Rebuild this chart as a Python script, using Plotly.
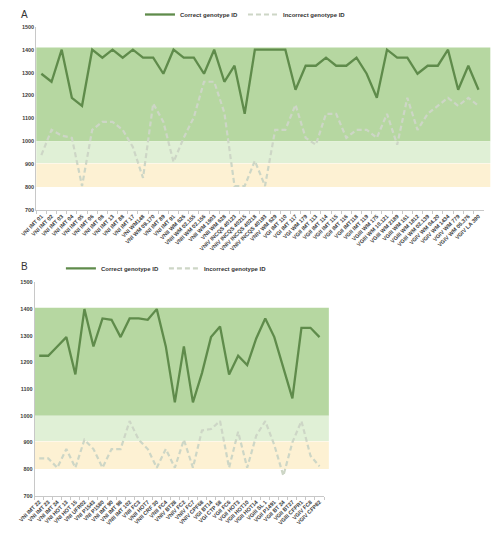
import plotly.graph_objects as go

# ---------------- data ----------------
a_labels = ["VNI IMT 01", "VNI IMT 02", "VNI IMT 03", "VNI IMT 04", "VNI IMT 05", "VNI IMT 06",
            "VNI IMT 08", "VNI IMT 13", "VNI IMT 88", "VNI IMT 17", "VNI WM148", "VNI WM 09.170",
            "VNI IMT 89", "VNI IMT 91", "VNII WM 626", "VNII WM 02.155", "VNII WM 02.156",
            "VNII WM 1603", "VNII WM 628", "VNIV INCQS 40123", "VNIV INCQS 40215",
            "VNIV INCQS 40218", "VNIV INCQS 40193", "VNIV WM 629", "VGI IMT 110", "VGI IMT 117",
            "VGI WM 179", "VGII IMT 113", "VGII IMT 114", "VGII IMT 115", "VGII IMT 116",
            "VGII IMT118", "VGII IMT 119", "VGIII WM 175", "VGIII WM 10.121", "VGIII WM 2189",
            "VGIII WM 161", "VGIII WM 1812", "VGIII WM 02.139", "VGIV WM 04.20", "VGIV WM 1434",
            "VGIV WM 779", "VGIV WM 06.376", "VGIV LA 390"]
a_correct = [1295, 1260, 1400, 1190, 1155, 1400, 1365, 1400, 1365, 1400, 1365, 1365, 1295, 1400,
             1365, 1365, 1295, 1400, 1260, 1330, 1120, 1400, 1400, 1400, 1400, 1225, 1330, 1330,
             1365, 1330, 1330, 1365, 1295, 1190, 1400, 1365, 1365, 1295, 1330, 1330, 1400, 1225,
             1330, 1225]
a_incorrect = [940, 1050, 1025, 1015, 805, 1050, 1085, 1085, 1050, 975, 840, 1165, 1085, 910,
               1015, 1105, 1260, 1260, 1125, 805, 805, 915, 805, 1050, 1050, 1160, 1015, 985,
               1120, 1120, 1015, 1050, 1050, 1015, 1120, 985, 1190, 1050, 1120, 1155, 1190, 1155,
               1190, 1155]

b_labels = ["VNI IMT 22", "VNI IMT 23", "VNI IMT 24", "VNI HOT 13", "VNI HOT 15", "VNI UFR02",
            "VNI P1543", "VNI P1580", "VNI IMT 90", "VNI IMT 98", "VNII IMT 102", "VNII FC3",
            "VNII HOT7", "VNII CRF 30", "VNII FC4", "VNIV BT28", "VNIV FC2", "VNIV FC7",
            "VNIV CPF68", "VGI BT14", "VGI CTP 58", "VGII FC6", "VGII HOT3", "VGII HOT10",
            "VGII HOT14", "VGIII SL 1", "VGII P1491", "VGII BT 24", "VGII BT27", "VGIII CFPR1",
            "VGIV FC8", "VGIV CFP82"]
b_correct = [1225, 1225, 1260, 1295, 1155, 1400, 1260, 1365, 1360, 1295, 1365, 1365, 1360, 1400,
             1260, 1050, 1260, 1050, 1160, 1295, 1335, 1155, 1225, 1190, 1290, 1365, 1295, 1180,
             1065, 1330, 1330, 1295]
b_incorrect = [840, 840, 805, 875, 805, 910, 875, 805, 875, 875, 980, 910, 875, 805, 875, 805,
               910, 805, 945, 950, 980, 805, 940, 805, 925, 980, 890, 775, 900, 980, 850, 810]

y_ticks = [700, 800, 900, 1000, 1100, 1200, 1300, 1400, 1500]
series_names = ["Correct genotype ID", "Incorrect genotype ID"]

# bands: (low, high, colour)
bands_a = [(1000, 1410, "#b6d7a1"), (905, 1000, "#e0f0d6"), (800, 903, "#fdf1d3")]
bands_b = [(1000, 1405, "#b6d7a1"), (905, 1000, "#e0f0d6"), (800, 903, "#fdf1d3")]

# ---------------- styling ----------------
SOLID = "#5f8b4b"
DASHED = "#cdd6c6"
FONT = "Liberation Sans"
TICK_FONT = dict(family=FONT, size=5.5, color="#404040", weight="bold")
AXIS_COLOR = "#c8c8c8"

fig = go.Figure()

for lab, cor, inc, xa, ya, leg in [(a_labels, a_correct, a_incorrect, "x", "y", "legend"),
                                   (b_labels, b_correct, b_incorrect, "x2", "y2", "legend2")]:
    fig.add_trace(go.Scatter(x=lab, y=cor, mode="lines", name=series_names[0],
                             line=dict(color=SOLID, width=2.3), xaxis=xa, yaxis=ya, legend=leg))
    fig.add_trace(go.Scatter(x=lab, y=inc, mode="lines", name=series_names[1],
                             line=dict(color=DASHED, width=2.2, dash="5px,3px"),
                             xaxis=xa, yaxis=ya, legend=leg))

shapes = []
for bands, yref, x0, x1 in [(bands_a, "y", 0.040, 0.982), (bands_b, "y2", 0.0367, 0.647)]:
    for lo, hi, col in bands:
        shapes.append(dict(type="rect", xref="paper", yref=yref, x0=x0, x1=x1, y0=lo, y1=hi,
                           fillcolor=col, line=dict(width=0), layer="below"))

xaxis_common = dict(type="category", showgrid=False, zeroline=False, showline=True,
                    linecolor=AXIS_COLOR, linewidth=1, ticks="outside", ticklen=3,
                    tickcolor=AXIS_COLOR, tickson="boundaries", tickangle=-45,
                    tickfont=TICK_FONT)
yaxis_common = dict(range=[700, 1500], tickvals=y_ticks, showgrid=False, zeroline=False,
                    showline=True, linecolor=AXIS_COLOR, linewidth=1, ticks="",
                    tickfont=TICK_FONT)

legend_font = dict(family=FONT, size=6, color="#333333", weight="bold")

fig.update_layout(
    width=499, height=538,
    margin=dict(l=0, r=0, t=0, b=0),
    paper_bgcolor="white", plot_bgcolor="rgba(0,0,0,0)",
    xaxis=dict(xaxis_common, domain=[0.040, 0.968], range=[-0.5, 43.5], anchor="y"),
    yaxis=dict(yaxis_common, domain=[0.619, 0.968], anchor="x"),
    xaxis2=dict(xaxis_common, domain=[0.0367, 0.637], range=[-0.5, 31.5], anchor="y2"),
    yaxis2=dict(yaxis_common, domain=[0.0749, 0.481], anchor="x2"),
    shapes=shapes,
    legend=dict(orientation="h", x=0.474, y=0.992, xanchor="center", yanchor="middle",
                font=legend_font, bgcolor="rgba(0,0,0,0)", itemwidth=30, tracegroupgap=0),
    legend2=dict(orientation="h", x=0.31, y=0.508, xanchor="center", yanchor="middle",
                 font=legend_font, bgcolor="rgba(0,0,0,0)", itemwidth=30, tracegroupgap=0),
    annotations=[
        dict(text="A", xref="paper", yref="paper", x=0.004, y=0.992, xanchor="left",
             yanchor="middle", showarrow=False, font=dict(family=FONT, size=10, color="#333333")),
        dict(text="B", xref="paper", yref="paper", x=0.004, y=0.512, xanchor="left",
             yanchor="middle", showarrow=False, font=dict(family=FONT, size=10, color="#333333")),
    ],
)

fig.write_html("out.html")
